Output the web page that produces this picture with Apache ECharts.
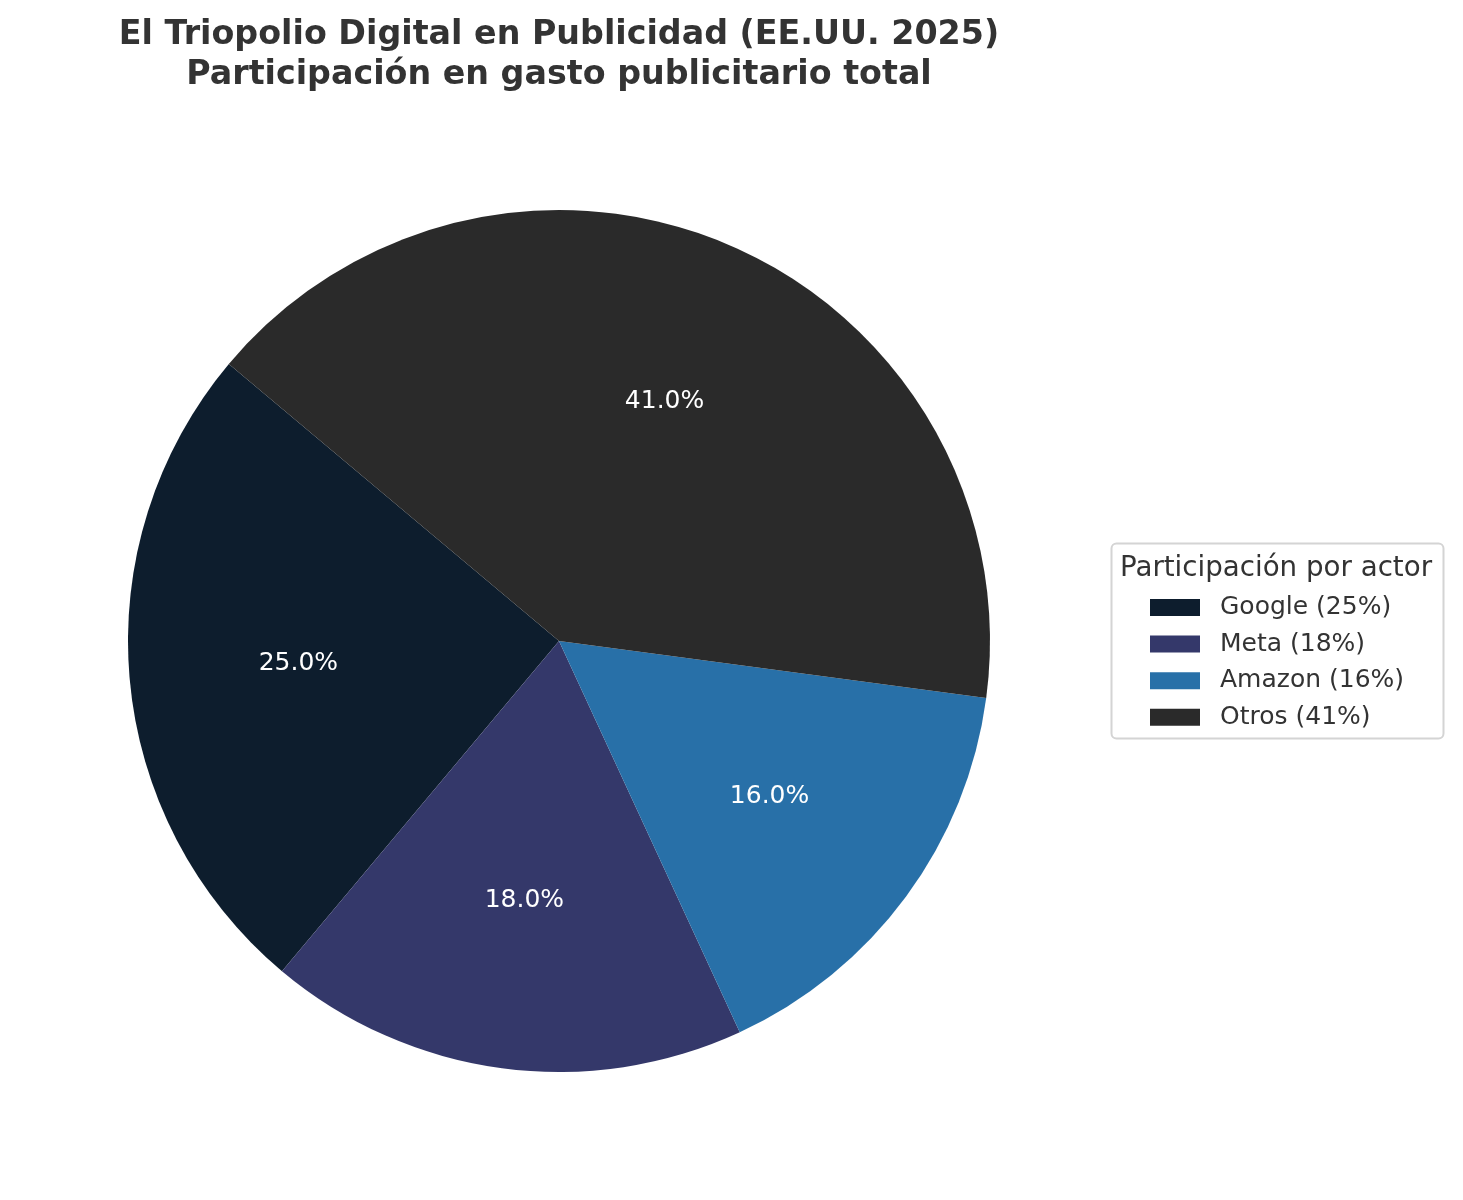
<!DOCTYPE html>
<html>
<head>
<meta charset="utf-8">
<style>
html,body{margin:0;padding:0;background:#fff;}
#chart{width:1463px;height:1200px;}
</style>
<script src="https://cdn.jsdelivr.net/npm/echarts@6/dist/echarts.min.js"></script>
</head>
<body>
<div id="chart"></div>
<script>
const categories = ['Google', 'Meta', 'Amazon', 'Otros'];
const shares = [25, 18, 16, 41];
const colors = ['#0d1d2d', '#34386a', '#2870a8', '#2a2a2a'];
const titleText = 'El Triopolio Digital en Publicidad (EE.UU. 2025)\nParticipación en gasto publicitario total';
const legendTitle = 'Participación por actor';

const FONT = 'DejaVu Sans';
const chart = echarts.init(document.getElementById('chart'));
const pieData = categories.map((c, i) => ({ name: c, value: shares[i], itemStyle: { color: colors[i] } }));
const labelData = categories.map((c, i) => ({ name: c, value: shares[i] }));

chart.setOption({
  animation: false,
  backgroundColor: '#ffffff',
  title: {
    text: titleText,
    left: 559,
    top: 15,
    padding: 0,
    textAlign: 'center',
    textStyle: { fontFamily: FONT, fontSize: 33.3, fontWeight: 'bold', color: '#333333', lineHeight: 40 }
  },
  legend: {
    orient: 'vertical',
    left: 1150,
    top: 595,
    padding: 0,
    itemWidth: 50,
    itemHeight: 17,
    itemGap: 11.6,
    icon: 'rect',
    data: categories,
    selectedMode: false,
    formatter: function (name) {
      const i = categories.indexOf(name);
      return name + ' (' + shares[i] + '%)';
    },
    textStyle: { fontFamily: FONT, fontSize: 25, color: '#333333', padding: [0, 0, 0, 15] }
  },
  graphic: [
    {
      type: 'rect', z: -1,
      shape: { x: 1111.5, y: 543.5, width: 332, height: 195, r: 5 },
      style: { fill: 'rgba(255,255,255,0.8)', stroke: '#d4d4d4', lineWidth: 2 }
    },
    {
      type: 'text',
      x: 1276, y: 569,
      style: { text: legendTitle, fontFamily: FONT, fontSize: 27.7, fill: '#333333', align: 'center', verticalAlign: 'middle' }
    }
  ],
  series: [
    {
      type: 'pie',
      center: [559, 641],
      radius: [0, 431],
      startAngle: 140,
      clockwise: false,
      avoidLabelOverlap: false,
      label: { show: false },
      labelLine: { show: false },
      itemStyle: { borderWidth: 0 },
      emphasis: { disabled: true },
      silent: true,
      data: pieData
    },
    {
      type: 'pie',
      center: [559, 641],
      radius: [86.2, 431],
      startAngle: 140,
      clockwise: false,
      avoidLabelOverlap: false,
      silent: true,
      emphasis: { disabled: true },
      itemStyle: { color: 'rgba(0,0,0,0)', borderWidth: 0 },
      labelLine: { show: false },
      label: {
        show: true,
        position: 'inside',
        color: '#ffffff',
        fontFamily: FONT,
        fontSize: 25,
        formatter: function (p) { return p.percent.toFixed(1) + '%'; }
      },
      data: labelData
    }
  ]
});
</script>
</body>
</html>
